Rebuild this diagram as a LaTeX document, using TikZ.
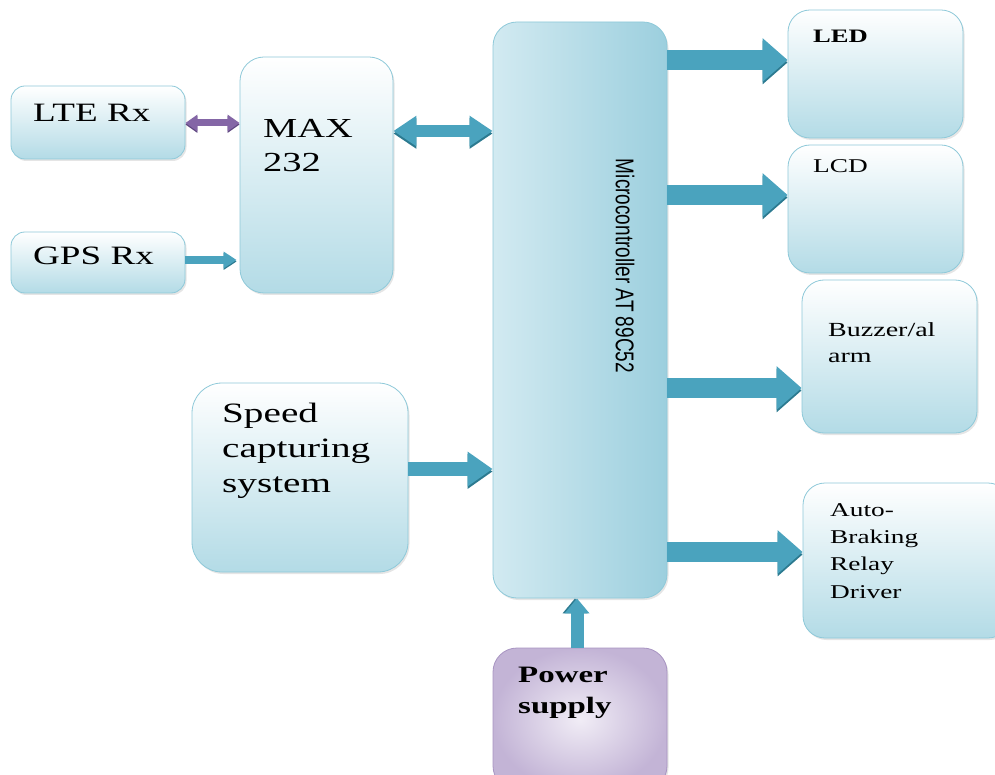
\documentclass[tikz,border=0pt]{standalone}
\usepackage{fontspec}
\setmainfont{Liberation Serif}
\newfontfamily\wserif[FakeStretch=1.4]{Liberation Serif}
\newfontfamily\wsans{Liberation Sans}
\usetikzlibrary{arrows.meta,shadows}
\definecolor{boxbot}{HTML}{B3DBE6}
\definecolor{boxedge}{HTML}{8EC9D9}
\definecolor{arr}{HTML}{4AA3BE}
\definecolor{arrdark}{HTML}{2C7A90}
\definecolor{purp}{HTML}{8466A6}
\definecolor{purpdark}{HTML}{5E4680}
\definecolor{mcleft}{HTML}{D2EAF1}
\definecolor{mcmid}{HTML}{DDEFF4}
\definecolor{mcright}{HTML}{9CCFDE}
\definecolor{pwrin}{HTML}{F1EDF6}
\definecolor{pwrout}{HTML}{C3B4D6}
\definecolor{pwredge}{HTML}{A894C2}
\begin{document}
\begin{tikzpicture}[x=1pt,y=-1pt,
  base/.style={draw=boxedge, line width=0.8pt, rounded corners=22pt, inner sep=0pt,
    drop shadow={shadow xshift=1.5pt, shadow yshift=-2pt, opacity=0.2, fill=gray}},
  blk/.style={base, top color=white, bottom color=boxbot},
  txt/.style={anchor=base west, inner sep=0pt, align=left},
  arrw/.style={draw=arr, line width=#1,
    preaction={draw=arrdark, transform canvas={yshift=-2.5pt}}},
  varrw/.style={draw=arr, line width=#1,
    preaction={draw=arrdark, transform canvas={xshift=-2pt}}}
]
\clip (0,0) rectangle (995,775);
\fill[white] (0,0) rectangle (995,775);

% boxes
\node[blk, rounded corners=14pt, minimum width=174pt, minimum height=73pt] (lte) at (98,122.5) {};
\node[blk, rounded corners=14pt, minimum width=174pt, minimum height=61pt] (gps) at (98,262.5) {};
\node[blk, rounded corners=24pt, minimum width=153pt, minimum height=236pt] (max) at (316.5,175) {};
\node[base, rounded corners=24pt, minimum width=174pt, minimum height=576pt,
  left color=mcleft, middle color=mcmid, right color=mcright] (mc) at (580,310) {};
\node[blk, minimum width=175pt, minimum height=128pt] (led) at (875.5,74) {};
\node[blk, minimum width=175pt, minimum height=128pt] (lcd) at (875.5,209) {};
\node[blk, minimum width=175pt, minimum height=153pt] (buzz) at (889.5,356.5) {};
\node[blk, minimum width=207pt, minimum height=155pt] (auto) at (906.5,560.5) {};
\node[blk, rounded corners=30pt, minimum width=216pt, minimum height=189pt] (speed) at (300,477.5) {};
\node[base, rounded corners=24pt, draw=pwredge, minimum width=174pt, minimum height=142pt,
  inner color=pwrin, outer color=pwrout] (pwr) at (580,719) {};

% texts (base = baseline of the last line)
\node[txt, font=\wserif\fontsize{26.5}{33}\selectfont] (ltet) at (33,122) {LTE Rx};
\node[txt, font=\wserif\fontsize{26.5}{33}\selectfont] (gpst) at (33,265) {GPS Rx};
\node[txt, font=\wserif\fontsize{27.5}{34}\selectfont] (maxt) at (263,172) {MAX\\232};
\node[txt, font=\wserif\fontsize{28}{35}\selectfont] (speedt) at (222,492) {Speed\\capturing\\system};
\node[txt, font=\wserif\bfseries\fontsize{19}{24}\selectfont] (ledt) at (813,43) {LED};
\node[txt, font=\wserif\fontsize{19.5}{24}\selectfont] (lcdt) at (813,173) {LCD};
\node[txt, font=\wserif\fontsize{20}{26}\selectfont] (buzzt) at (828,362) {Buzzer/al\\arm};
\node[txt, font=\wserif\fontsize{19.5}{27.3}\selectfont] (autot) at (830,598) {Auto-\\Braking\\Relay\\Driver};
\node[txt, font=\wserif\bfseries\fontsize{23.5}{31}\selectfont] (pwrt) at (518,713) {Power\\supply};
\node[rotate=-90, inner sep=0pt, font=\wsans\fontsize{19}{22}\selectfont] (mct) at (625,266)
  {\scalebox{1}[1.35]{Microcontroller AT 89C52}};

% connector levels
\coordinate (yled) at (0,60);
\coordinate (ylcd) at (0,195);
\coordinate (ybuzz) at (0,388);
\coordinate (yauto) at (0,552);
\coordinate (ymax) at (0,131);
\coordinate (yspeed) at (0,469);
\coordinate (ylte) at (0,123);
\coordinate (ygps) at (0,260);
\coordinate (xpwr) at (577,0);

% arrows
\draw[arrw=20pt, -{Triangle[length=25pt,width=42pt]}] (mc.east |- yled) -- (led.west |- yled);
\draw[arrw=20pt, -{Triangle[length=25pt,width=42pt]}] (mc.east |- ylcd) -- (lcd.west |- ylcd);
\draw[arrw=20pt, -{Triangle[length=25pt,width=42pt]}] (mc.east |- ybuzz) -- (buzz.west |- ybuzz);
\draw[arrw=20pt, -{Triangle[length=25pt,width=42pt]}] (mc.east |- yauto) -- (auto.west |- yauto);
\draw[arrw=12pt, {Triangle[length=23pt,width=29pt]}-{Triangle[length=23pt,width=29pt]}] (max.east |- ymax) -- (mc.west |- ymax);
\draw[arrw=14pt, -{Triangle[length=25pt,width=33pt]}] (speed.east |- yspeed) -- (mc.west |- yspeed);
\draw[draw=purp, line width=7pt, preaction={draw=purpdark, transform canvas={yshift=-1.5pt}},
  {Triangle[length=12pt,width=16pt]}-{Triangle[length=12pt,width=16pt]}] (lte.east |- ylte) -- (max.west |- ylte);
\draw[draw=arr, line width=8pt, preaction={draw=arrdark, transform canvas={yshift=-1.5pt}},
  -{Triangle[length=13pt,width=16pt]}] (gps.east |- ygps) -- ([xshift=-3pt]max.west |- ygps);
\draw[varrw=13pt, -{Triangle[length=15pt,width=24pt]}] (pwr.north -| xpwr) -- (mc.south -| xpwr);
\end{tikzpicture}
\end{document}
